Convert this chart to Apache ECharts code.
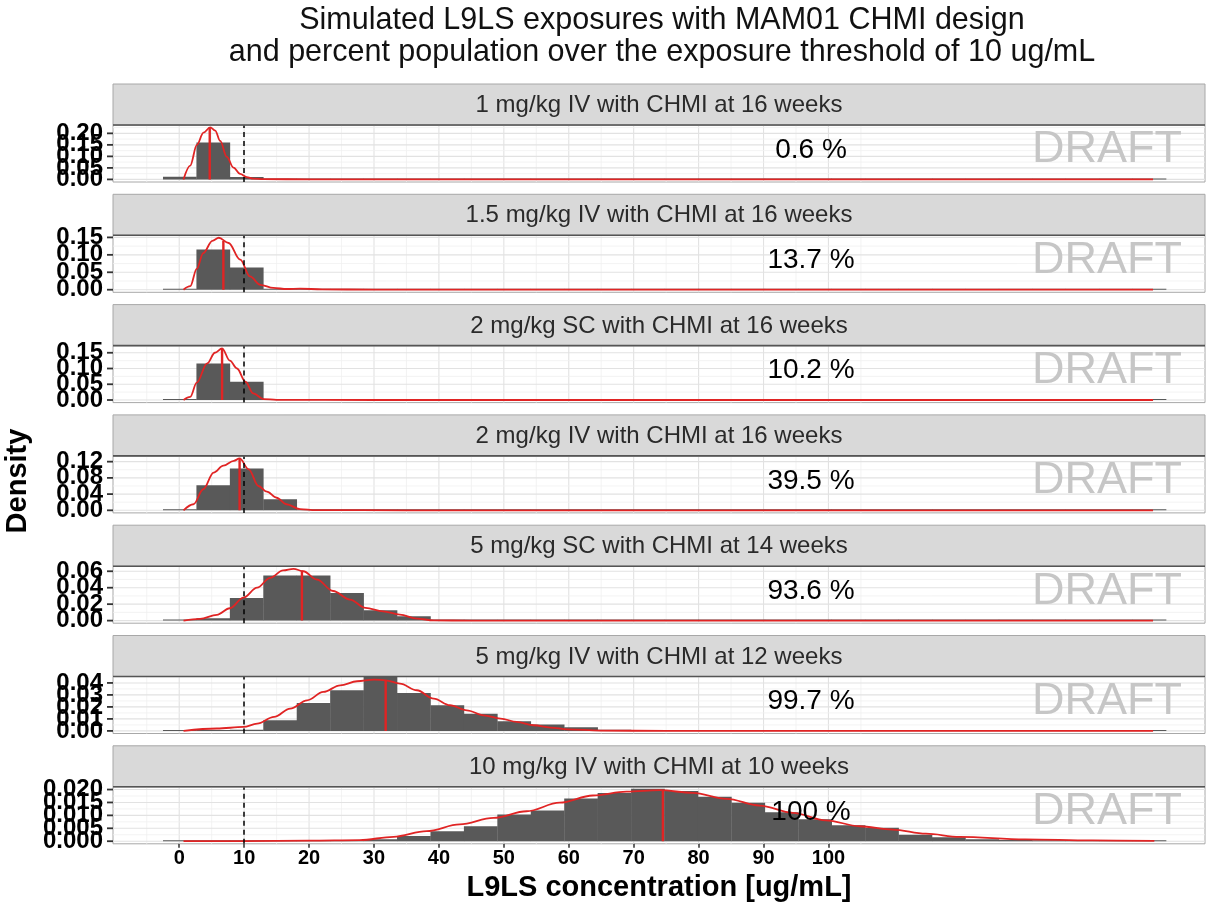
<!DOCTYPE html>
<html><head><meta charset="utf-8">
<script src="https://cdn.jsdelivr.net/npm/echarts@6/dist/echarts.min.js"></script>
<style>html,body{margin:0;padding:0;background:#fff}#c{width:1207px;height:912px}</style>
</head><body><div id="c"></div>
<script>
// ---------------- data ----------------
const titleLines = ["Simulated L9LS exposures with MAM01 CHMI design",
                    "and percent population over the exposure threshold of 10 ug/mL"];
const xAxisTitle = "L9LS concentration [ug/mL]";
const yAxisTitle = "Density";
const panelLabels = [
  "1 mg/kg IV with CHMI at 16 weeks",
  "1.5 mg/kg IV with CHMI at 16 weeks",
  "2 mg/kg SC with CHMI at 16 weeks",
  "2 mg/kg IV with CHMI at 16 weeks",
  "5 mg/kg SC with CHMI at 14 weeks",
  "5 mg/kg IV with CHMI at 12 weeks",
  "10 mg/kg IV with CHMI at 10 weeks"
];
const percentLabels = ["0.6 %", "13.7 %", "10.2 %", "39.5 %", "93.6 %", "99.7 %", "100 %"];
const threshold = 10;
const xTickValues = [0, 10, 20, 30, 40, 50, 60, 70, 80, 90, 100];
const xMinorValues = [-5, 5, 15, 25, 35, 45, 55, 65, 75, 85, 95, 105];

const binEdges = [-2.5, 2.65, 7.8, 12.95, 18.1, 23.25, 28.4, 33.55, 38.7, 43.85, 49, 54.15,
  59.3, 64.45, 69.6, 74.75, 79.9, 85.05, 90.2, 95.35, 100.5, 105.65, 110.8, 115.95, 121.1,
  126.25, 131.4, 136.55, 141.7, 146.85, 152];

const hist1 = [0.012, 0.160, 0.010, 0, 0, 0, 0, 0, 0, 0, 0, 0, 0, 0, 0, 0, 0, 0, 0, 0, 0, 0, 0, 0, 0, 0, 0, 0, 0, 0];
const hist2 = [0.002, 0.115, 0.064, 0.001, 0, 0, 0, 0, 0, 0, 0, 0, 0, 0, 0, 0, 0, 0, 0, 0, 0, 0, 0, 0, 0, 0, 0, 0, 0, 0];
const hist3 = [0.003, 0.116, 0.058, 0.001, 0, 0, 0, 0, 0, 0, 0, 0, 0, 0, 0, 0, 0, 0, 0, 0, 0, 0, 0, 0, 0, 0, 0, 0, 0, 0];
const hist4 = [0.001, 0.062, 0.103, 0.027, 0.001, 0, 0, 0, 0, 0, 0, 0, 0, 0, 0, 0, 0, 0, 0, 0, 0, 0, 0, 0, 0, 0, 0, 0, 0, 0];
const hist5 = [0, 0.003, 0.0276, 0.0547, 0.0547, 0.0337, 0.0125, 0.0053, 0.0005, 0, 0, 0, 0, 0, 0, 0, 0, 0, 0, 0, 0, 0, 0, 0, 0, 0, 0, 0, 0, 0];
const hist6 = [0, 0, 0.001, 0.0089, 0.0233, 0.0339, 0.045, 0.0317, 0.0213, 0.0144, 0.008, 0.0053, 0.003, 0.001, 0, 0, 0, 0, 0, 0, 0, 0, 0, 0, 0, 0, 0, 0, 0, 0];
const hist7 = [0, 0, 0, 0, 0.0002, 0.0004, 0.0008, 0.002, 0.0039, 0.0058, 0.0103, 0.0119, 0.0165, 0.0187, 0.0203,
  0.0194, 0.0172, 0.0149, 0.0112, 0.0085, 0.0062, 0.0052, 0.0025, 0.0015, 0.0008, 0.0005, 0.0004, 0.0003, 0.0002, 0.0002];

const dens1 = [[0.66,0],[1.69,0.06],[2.72,0.15],[3.74,0.203],[4.77,0.226],[5.54,0.212],[6.31,0.167],[7.33,0.098],
  [8.36,0.051],[9.38,0.024],[10.4,0.01],[11.4,0.003],[13,0.001],[20,0.0003],[40,0],[150,0]];
const dens2 = [[0.66,0],[1.7,0.01],[2.7,0.06],[3.7,0.105],[5.1,0.14],[6.1,0.149],[7.6,0.134],[9.4,0.086],[10.9,0.038],
  [12.5,0.014],[14.5,0.005],[16.6,0.002],[18.6,0.003],[22,0.001],[30,0.0002],[50,0],[150,0]];
const dens3 = [[0.66,0],[1.7,0.01],[2.7,0.055],[4.3,0.116],[5.5,0.15],[6.6,0.164],[7.8,0.125],[8.9,0.1],[10.2,0.058],
  [11.4,0.021],[13,0.003],[15,0.0005],[30,0],[150,0]];
const dens4 = [[0.66,0],[2.2,0.015],[3.7,0.052],[5.3,0.093],[6.8,0.11],[8.4,0.122],[9.3,0.128],[10.7,0.101],[12.2,0.06],
  [13.5,0.046],[15,0.031],[16.5,0.015],[18.6,0.003],[21,0.0005],[35,0],[150,0]];
const dens5 = [[0.66,0],[3.2,0.002],[5.8,0.007],[7.8,0.015],[9.9,0.028],[12,0.040],[14,0.052],[16,0.061],[17.6,0.063],
  [19.1,0.060],[21.2,0.050],[23.7,0.036],[26.3,0.0255],[28.7,0.0155],[31.4,0.0113],[34,0.0073],[36.6,0.0024],
  [39.2,0.0003],[45,0],[150,0]];
const dens6 = [[0.66,0],[5.8,0.002],[9.9,0.0033],[12,0.006],[14.6,0.0117],[17.1,0.0186],[19.7,0.0255],[22.2,0.0325],
  [24.8,0.038],[27.4,0.0414],[30,0.0428],[31.8,0.0422],[34,0.0394],[36.6,0.0339],[39.2,0.0269],[41.7,0.0214],
  [44.3,0.0172],[46.9,0.013],[49.5,0.0103],[52,0.0075],[54.6,0.0047],[57.2,0.0028],[59.8,0.0013],[64.9,0.0003],
  [75,0],[150,0]];
const dens7 = [[0.66,0],[10,0.00005],[20,0.0002],[27.8,0.0004],[33,0.0017],[38.1,0.0039],[43.2,0.0065],[48.4,0.009],
  [53.5,0.0116],[58.6,0.0149],[63.7,0.0177],[68.9,0.0192],[74,0.0198],[79.1,0.0187],[84.3,0.0164],[89.4,0.0138],
  [94.5,0.011],[99.6,0.0081],[104.8,0.0058],[109.9,0.0045],[115,0.0029],[120.2,0.0017],[130.3,0.0007],
  [140.6,0.0003],[150.2,0.0001]];

const medians = [4.7, 6.8, 6.6, 9.3, 18.9, 31.8, 74.5];
const medianHeights = [0.226, 0.14, 0.164, 0.128, 0.061, 0.0422, 0.0198];
const yPeaks = [0.225, 0.1486, 0.1645, 0.1278, 0.063, 0.0432, 0.02006];

const yTicks1 = [0, 0.05, 0.10, 0.15, 0.20];
const yTicks2 = [0, 0.05, 0.10, 0.15];
const yTicks3 = [0, 0.05, 0.10, 0.15];
const yTicks4 = [0, 0.04, 0.08, 0.12];
const yTicks5 = [0, 0.02, 0.04, 0.06];
const yTicks6 = [0, 0.01, 0.02, 0.03, 0.04];
const yTicks7 = [0, 0.005, 0.010, 0.015, 0.020];
const yDecimals = [2, 2, 2, 2, 2, 2, 3];

// ---------------- build ----------------
const hists = [hist1, hist2, hist3, hist4, hist5, hist6, hist7];
const dens = [dens1, dens2, dens3, dens4, dens5, dens6, dens7];
const yTicks = [yTicks1, yTicks2, yTicks3, yTicks4, yTicks5, yTicks6, yTicks7];

const FONT = "'Liberation Sans', Arial, Helvetica, sans-serif";
const LEFT = 113, WIDTH = 1092, STRIP0 = 84, PERIOD = 110.3, STRIP_H = 41, PLOT_H = 57;
const RED = '#e02424';

const grids = [], xAxes = [], yAxes = [], series = [], graphics = [];

function txt(x, y, text, size, opts) {
  opts = opts || {};
  return {
    type: 'text', x: x, y: y, rotation: opts.rotation || 0, z: 100,
    style: {
      text: text, fontSize: size, fontFamily: FONT, fontWeight: opts.weight || 'normal',
      fill: opts.color || '#000', align: 'center', verticalAlign: 'middle',
      textAlign: 'center', textVerticalAlign: 'middle'
    }
  };
}

for (let i = 0; i < 7; i++) {
  const stripTop = STRIP0 + PERIOD * i;
  const plotTop = stripTop + STRIP_H;
  const P = yPeaks[i];
  const last = i === 6;
  const ticks = yTicks[i];
  const step = ticks[1] - ticks[0];
  const yMin = -0.05 * P, yMax = 1.05 * P;
  const yMinor = [];
  for (let k = 0; k < ticks.length; k++) {
    const m = ticks[k] + step / 2;
    if (m <= yMax) yMinor.push(m);
  }

  grids.push({ left: LEFT, top: plotTop, width: WIDTH, height: PLOT_H, show: true,
    backgroundColor: '#fff', borderColor: '#a8a8a8', borderWidth: 1 });
  xAxes.push({
    type: 'value', gridIndex: i, min: -10.2, max: 158, position: 'bottom',
    axisLine: { show: false, onZero: false }, splitLine: { show: false },
    axisTick: last ? { show: true, customValues: xTickValues, length: 4, lineStyle: { color: '#333', width: 1.5 } } : { show: false },
    axisLabel: last ? { show: true, customValues: xTickValues, fontSize: 20, fontWeight: 'bold', color: '#000', margin: 5,
      fontFamily: FONT, showMinLabel: true, showMaxLabel: true, hideOverlap: false } : { show: false }
  });
  const dec = yDecimals[i];
  yAxes.push({
    type: 'value', gridIndex: i, min: yMin, max: yMax, position: 'left',
    axisLine: { show: false, onZero: false }, splitLine: { show: false },
    axisTick: { show: false },
    axisLabel: { show: false }
  });

  // gridlines
  const gl = [];
  xTickValues.forEach(v => gl.push([v, 0]));
  xMinorValues.forEach(v => gl.push([v, 1]));
  ticks.forEach(v => gl.push([v, 2]));
  yMinor.forEach(v => gl.push([v, 3]));
  series.push({
    type: 'custom', xAxisIndex: i, yAxisIndex: i, z: 1, silent: true,
    data: gl,
    renderItem: function (params, api) {
      const v = api.value(0), kind = api.value(1);
      const cs = params.coordSys;
      const col = (kind === 0 || kind === 2) ? '#e2e2e2' : '#f0f0f0';
      const lw = (kind === 0 || kind === 2) ? 1.1 : 0.8;
      if (kind < 2) {
        const x = api.coord([v, 0])[0];
        return { type: 'line', shape: { x1: x, y1: cs.y, x2: x, y2: cs.y + cs.height }, style: { stroke: col, lineWidth: lw } };
      } else {
        const y = api.coord([0, v])[1];
        return { type: 'line', shape: { x1: cs.x, y1: y, x2: cs.x + cs.width, y2: y }, style: { stroke: col, lineWidth: lw } };
      }
    }
  });

  // y ticks + tick labels (all shown, overlapping as in the original)
  series.push({
    type: 'custom', xAxisIndex: i, yAxisIndex: i, z: 10, silent: true, clip: false,
    data: ticks.map(v => [v]),
    renderItem: function (params, api) {
      const v = api.value(0);
      const cs = params.coordSys;
      const y = api.coord([0, v])[1];
      return { type: 'group', children: [
        { type: 'line', shape: { x1: cs.x - 6, y1: y, x2: cs.x, y2: y }, style: { stroke: '#333', lineWidth: 1.8 } },
        { type: 'text', x: cs.x - 10, y: y,
          style: { text: Number(v).toFixed(dec), fontSize: 24, fontWeight: 'bold', fontFamily: FONT, fill: '#000',
            align: 'right', verticalAlign: 'middle', textAlign: 'right', textVerticalAlign: 'middle' } }
      ] };
    }
  });

  // histogram
  series.push({
    type: 'custom', xAxisIndex: i, yAxisIndex: i, z: 2, silent: true,
    encode: { x: [0, 1], y: 2 },
    data: hists[i].map((h, k) => [binEdges[k], binEdges[k + 1], h]),
    renderItem: function (params, api) {
      const p0 = api.coord([api.value(0), 0]);
      const p1 = api.coord([api.value(1), api.value(2)]);
      let top = p1[1];
      if (p0[1] - top < 1) top = p0[1] - 1;
      return { type: 'rect', shape: { x: p0[0], y: top, width: p1[0] - p0[0] + 0.3, height: p0[1] - top },
        style: { fill: '#595959' } };
    }
  });

  // density curve
  series.push({
    type: 'line', xAxisIndex: i, yAxisIndex: i, z: 4, silent: true,
    data: dens[i], smooth: 0.35, smoothMonotone: 'x', showSymbol: false, symbol: 'none',
    lineStyle: { color: RED, width: 1.8 }
  });

  // median line + threshold
  series.push({
    type: 'line', xAxisIndex: i, yAxisIndex: i, z: 5, silent: true,
    data: [[medians[i], 0], [medians[i], medianHeights[i]]], showSymbol: false, symbol: 'none',
    lineStyle: { color: RED, width: 2.4 },
    markLine: {
      silent: true, symbol: ['none', 'none'], label: { show: false },
      lineStyle: { color: '#000', type: [5, 4], width: 1.5 },
      data: [{ xAxis: threshold }]
    }
  });

  // strip
  graphics.push({ type: 'rect', z: 50, shape: { x: LEFT, y: stripTop, width: WIDTH, height: STRIP_H },
    style: { fill: '#d9d9d9', stroke: '#a8a8a8', lineWidth: 1 } });
  graphics.push({ type: 'line', z: 51, shape: { x1: LEFT, y1: plotTop, x2: LEFT + WIDTH, y2: plotTop },
    style: { stroke: '#555', lineWidth: 1.6 } });
  graphics.push(txt(LEFT + WIDTH / 2, stripTop + STRIP_H / 2 + 1, panelLabels[i], 24, { color: '#2a2a2a' }));
  graphics.push(txt(811, plotTop + 25, percentLabels[i], 28, { color: '#000' }));
  graphics.push(txt(1107, plotTop + 25, 'DRAFT', 45, { color: '#c6c6c6' }));
}

graphics.push(txt(662, 21, titleLines[0], 30.5, { color: '#111' }));
graphics.push(txt(662, 53, titleLines[1], 30.5, { color: '#111' }));
graphics.push(txt(659, 888, xAxisTitle, 29, { weight: 'bold' }));
graphics.push(txt(18, 481, yAxisTitle, 29, { weight: 'bold', rotation: Math.PI / 2 }));

const chart = echarts.init(document.getElementById('c'), null, { renderer: 'canvas' });
chart.setOption({
  animation: false,
  backgroundColor: '#fff',
  grid: grids, xAxis: xAxes, yAxis: yAxes, series: series, graphic: graphics
});
</script>
</body></html>
